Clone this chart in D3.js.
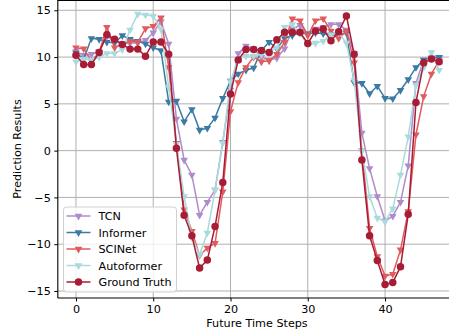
<!DOCTYPE html>
<html>
<head>
<meta charset="utf-8">
<script src="https://cdn.jsdelivr.net/npm/d3@7"></script>
<style>
  body { margin: 0; background: #fff; }
  text { font-family: "DejaVu Sans", sans-serif; }
</style>
</head>
<body>
<svg id="chart" width="449" height="335"></svg>
<script>
const steps = d3.range(0, 48);

const tcn = [10.6, 10.2, 10.3, 10.6, 12.2, 11.7, 11.4, 11.5, 11.5, 11.8, 12.6, 13.8, 11.4, 3.4, -1.0, -2.6,
    -6.9, -5.5, -4.2, 0.9, 6.5, 10.4, 11.2, 10.9, 10.0, 9.7, 9.9, 10.9, 13.0, 13.4, 12.5, 13.0,
    13.2, 13.5, 13.5, 12.9, 10.4, 1.9, -1.9, -4.9, -7.5, -7.0, -5.5, -1.6, 7.2, 9.7, 9.9, 9.9];
const informer = [10.45, 9.8, 12.0, 11.9, 11.6, 11.5, 12.3, 11.9, 11.7, 11.4, 11.0, 10.7, 5.2, 5.3, 3.1, 4.4,
    2.2, 2.4, 3.5, 5.6, 7.45, 8.2, 8.6, 8.85, 10.7, 11.6, 10.9, 12.0, 12.3, 12.6, 12.5, 12.6,
    12.5, 12.4, 12.3, 12.6, 7.3, 7.2, 6.1, 6.9, 5.6, 5.55, 6.45, 7.6, 8.9, 9.7, 9.9, 10.0];
const scinet = [11.0, 10.9, 9.6, 10.5, 13.2, 11.0, 11.4, 11.7, 11.6, 13.05, 13.3, 14.2, 8.9, 0.8, -6.3, -8.6,
    -11.2, -10.4, -9.9, -4.4, 4.2, 7.3, 8.9, 10.0, 9.5, 9.6, 10.3, 11.6, 14.1, 13.9, 12.3, 13.9,
    14.1, 12.8, 12.0, 12.8, 9.4, 0.0, -8.3, -11.3, -13.4, -13.2, -10.6, -6.5, 1.7, 5.8, 8.2, 9.6];
const autoformer = [9.5, 9.8, 9.7, 10.0, 10.4, 10.4, 10.8, 12.9, 14.6, 14.5, 14.4, 13.0, 6.8, 0.7, -4.9, -9.3,
    -11.1, -8.8, -4.2, 0.8, 7.4, 9.8, 10.1, 10.1, 10.3, 10.6, 11.0, 13.2, 13.5, 12.5, 11.3, 11.5,
    11.7, 12.4, 12.6, 11.5, 7.5, 0.0, -4.9, -7.2, -7.6, -6.2, -2.6, 1.5, 7.0, 8.9, 10.5, 8.6];
const groundTruth = [10.2, 9.2, 9.2, 10.5, 12.4, 11.9, 11.35, 10.85, 10.85, 10.1, 11.6, 11.6, 10.3, 0.25, -6.9, -9.1,
    -12.55, -11.7, -8.1, -3.4, 6.05, 9.7, 10.8, 10.8, 10.7, 10.5, 11.85, 12.65, 12.65, 12.65, 11.45, 12.8,
    13.0, 11.75, 12.7, 14.4, 10.3, -1.0, -9.1, -11.75, -14.3, -14.1, -12.4, -6.8, 5.15, 9.4, 9.8, 9.5];

const seriesNames = ["TCN", "Informer", "SCINet", "Autoformer", "Ground Truth"];
const seriesValues = [tcn, informer, scinet, autoformer, groundTruth];
const seriesColors = ["#ae8ccb", "#3b7aa2", "#e05b5e", "#a9dadd", "#a81c36"];
const seriesMarkers = ["tri", "tri", "tri", "tri", "circle"];

const xTicks = [0, 10, 20, 30, 40];
const yTicks = [-15, -10, -5, 0, 5, 10, 15];

const svg = d3.select("#chart");
const plotL = 57.8, plotR = 457.3, plotT = 0, plotB = 298;
const fs = 11.2;

const x = d3.scaleLinear().domain([-2.35, 49.35]).range([plotL, plotR]);
const y = d3.scaleLinear().domain([-15.75, 16.1]).range([plotB, plotT]);

// grid
svg.append("g")
    .selectAll("line")
    .data(xTicks)
    .enter().append("line")
    .attr("x1", d => x(d)).attr("x2", d => x(d))
    .attr("y1", plotT).attr("y2", plotB)
    .attr("stroke", "#b0b0b0").attr("stroke-width", 1);
svg.append("g")
    .selectAll("line")
    .data(yTicks)
    .enter().append("line")
    .attr("x1", plotL).attr("x2", plotR)
    .attr("y1", d => y(d)).attr("y2", d => y(d))
    .attr("stroke", "#b0b0b0").attr("stroke-width", 1);

// axes
const xAxis = svg.append("g")
    .attr("transform", "translate(0," + plotB + ")")
    .call(d3.axisBottom(x).tickValues(xTicks).tickSize(3.5).tickPadding(3.5));
const yAxis = svg.append("g")
    .attr("transform", "translate(" + plotL + ",0)")
    .call(d3.axisLeft(y).tickValues(yTicks).tickSize(3.5).tickPadding(3.5)
        .tickFormat(d => d < 0 ? "\u2212" + Math.abs(d) : d));
[xAxis, yAxis].forEach(a => {
    a.selectAll("text").attr("font-size", fs).attr("fill", "#000")
        .attr("font-family", "DejaVu Sans, sans-serif");
    a.selectAll("line").attr("stroke", "#000").attr("stroke-width", 1);
    a.select(".domain").remove();
});

// spines
svg.append("line").attr("x1", plotL).attr("x2", plotL).attr("y1", plotT).attr("y2", plotB)
    .attr("stroke", "#000").attr("stroke-width", 1.1);
svg.append("line").attr("x1", plotL).attr("x2", plotR).attr("y1", plotB).attr("y2", plotB)
    .attr("stroke", "#000").attr("stroke-width", 1.1);
svg.append("line").attr("x1", plotL).attr("x2", plotR).attr("y1", plotT + 0.5).attr("y2", plotT + 0.5)
    .attr("stroke", "#000").attr("stroke-width", 1.1);

// series
const line = d3.line().x((d, i) => x(steps[i])).y(d => y(d));
const triangle = d3.symbol().type(d3.symbolTriangle).size(25);
const circle = d3.symbol().type(d3.symbolCircle).size(44);

seriesValues.forEach((vals, k) => {
    const g = svg.append("g");
    g.append("path")
        .datum(vals)
        .attr("d", line)
        .attr("fill", "none")
        .attr("stroke", seriesColors[k])
        .attr("stroke-width", 1.5);
    g.selectAll("path.m")
        .data(vals)
        .enter().append("path")
        .attr("class", "m")
        .attr("d", seriesMarkers[k] === "tri" ? triangle : circle)
        .attr("transform", (d, i) => "translate(" + x(steps[i]) + "," + y(d) + ")" +
            (seriesMarkers[k] === "tri" ? " rotate(180)" : ""))
        .attr("fill", seriesColors[k]);
});

// axis titles
svg.append("text")
    .attr("x", 257).attr("y", 327)
    .attr("text-anchor", "middle").attr("font-size", fs)
    .text("Future Time Steps");
svg.append("text")
    .attr("transform", "translate(21," + (plotT + plotB) / 2 + ") rotate(-90)")
    .attr("text-anchor", "middle").attr("font-size", fs)
    .text("Prediction Results");

// legend
const lg = svg.append("g").attr("transform", "translate(63.5,207)");
lg.append("rect")
    .attr("width", 113).attr("height", 85).attr("rx", 3)
    .attr("fill", "#fff").attr("fill-opacity", 0.8)
    .attr("stroke", "#d0d0d0").attr("stroke-width", 1);
seriesNames.forEach((name, k) => {
    const yy = 9 + k * 16.5;
    lg.append("line").attr("x1", 3).attr("x2", 27).attr("y1", yy).attr("y2", yy)
        .attr("stroke", seriesColors[k]).attr("stroke-width", 1.5);
    lg.append("path")
        .attr("d", seriesMarkers[k] === "tri" ? triangle : circle)
        .attr("transform", "translate(15," + yy + ")" + (seriesMarkers[k] === "tri" ? " rotate(180)" : ""))
        .attr("fill", seriesColors[k]);
    lg.append("text").attr("x", 35).attr("y", yy + 4)
        .attr("font-size", fs).text(name);
});
</script>
</body>
</html>
